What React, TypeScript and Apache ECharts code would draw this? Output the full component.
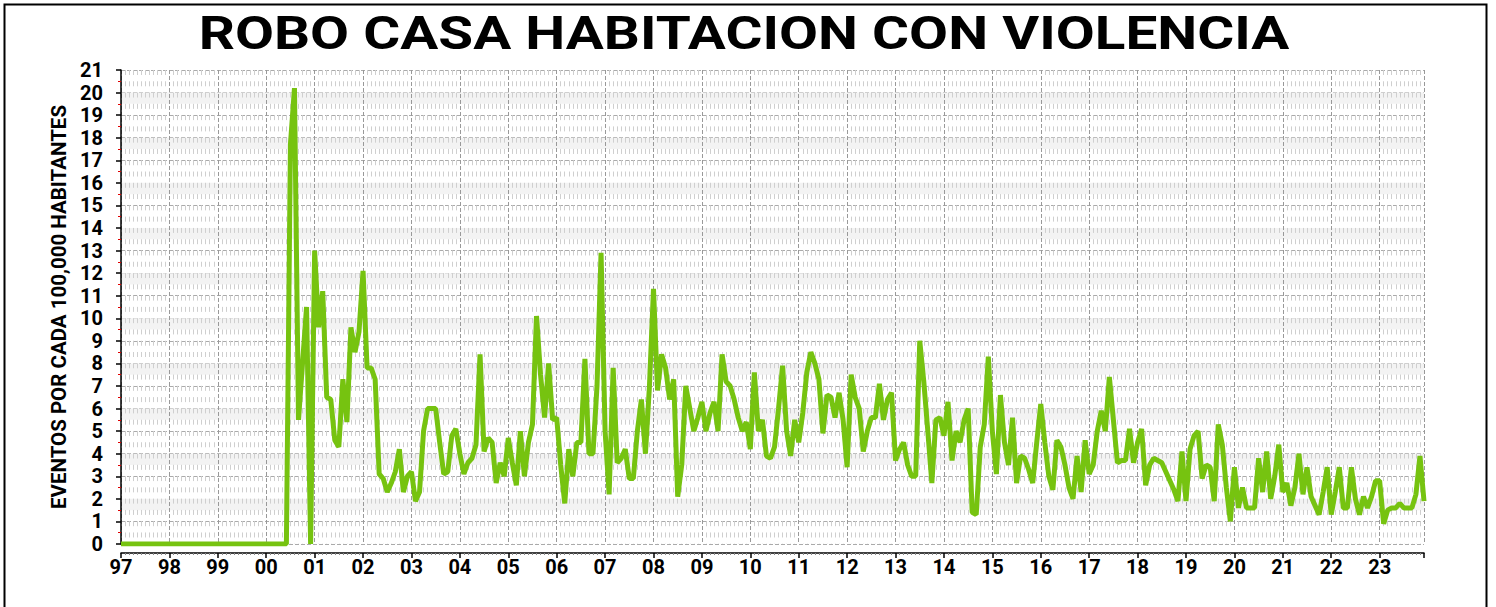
import React, { useEffect, useRef } from 'react';
import * as echarts from 'echarts';

const chartTitle = 'ROBO CASA HABITACION CON VIOLENCIA';
const yAxisTitle = 'EVENTOS POR CADA 100,000 HABITANTES';
const firstYear = 1997;
const yMax = 21;

// Monthly rate per 100,000 inhabitants, January to December of each year
const v1997 = [0, 0, 0, 0, 0, 0, 0, 0, 0, 0, 0, 0];
const v1998 = [0, 0, 0, 0, 0, 0, 0, 0, 0, 0, 0, 0];
const v1999 = [0, 0, 0, 0, 0, 0, 0, 0, 0, 0, 0, 0];
const v2000 = [0, 0, 0, 0, 0, 0, 17.7, 20.2, 5.5, 8.0, 10.5, 0];
const v2001 = [13.0, 9.6, 11.2, 6.5, 6.4, 4.6, 4.3, 7.3, 5.4, 9.6, 8.5, 9.4];
const v2002 = [12.1, 7.8, 7.8, 7.3, 3.1, 2.9, 2.3, 2.7, 3.2, 4.2, 2.3, 3.0];
const v2003 = [3.2, 1.9, 2.3, 5.0, 6.0, 6.0, 6.0, 4.5, 3.1, 3.2, 4.8, 5.1];
const v2004 = [4.0, 3.1, 3.6, 3.8, 4.4, 8.4, 4.1, 4.7, 4.5, 2.7, 3.6, 3.0];
const v2005 = [4.7, 3.6, 2.6, 5.0, 3.0, 4.5, 5.3, 10.1, 7.5, 5.6, 8.0, 5.5];
const v2006 = [5.6, 3.5, 1.8, 4.2, 3.0, 4.5, 4.5, 8.2, 4.0, 4.0, 7.0, 12.9];
const v2007 = [5.0, 2.2, 7.8, 3.6, 3.8, 4.2, 2.9, 2.9, 5.0, 6.4, 4.0, 7.0];
const v2008 = [11.3, 6.8, 8.4, 7.8, 6.4, 7.3, 2.1, 3.5, 7.0, 6.0, 5.0, 5.6];
const v2009 = [6.3, 5.0, 5.8, 6.3, 5.0, 8.4, 7.2, 7.0, 6.4, 5.6, 5.0, 5.4];
const v2010 = [4.2, 7.6, 5.0, 5.5, 3.9, 3.8, 4.3, 6.0, 7.9, 5.0, 3.9, 5.5];
const v2011 = [4.5, 5.8, 7.6, 8.5, 8.0, 7.3, 4.9, 6.6, 6.5, 5.6, 6.7, 5.5];
const v2012 = [3.4, 7.5, 6.5, 6.0, 4.1, 5.0, 5.6, 5.6, 7.1, 5.5, 6.4, 6.7];
const v2013 = [3.7, 4.2, 4.5, 3.5, 3.0, 3.0, 9.0, 7.2, 5.0, 2.7, 5.5, 5.6];
const v2014 = [4.8, 6.3, 3.7, 5.0, 4.5, 5.5, 6.0, 1.4, 1.3, 4.3, 5.3, 8.3];
const v2015 = [5.0, 3.1, 6.6, 4.5, 3.5, 5.6, 2.7, 3.9, 3.8, 3.3, 2.7, 4.5];
const v2016 = [6.2, 4.5, 3.0, 2.4, 4.6, 4.3, 3.5, 2.5, 2.0, 3.9, 2.3, 4.6];
const v2017 = [3.1, 3.5, 5.0, 5.9, 5.0, 7.4, 5.5, 3.6, 3.7, 3.7, 5.1, 3.6];
const v2018 = [4.5, 5.1, 2.6, 3.5, 3.8, 3.7, 3.6, 3.2, 2.8, 2.4, 1.9, 4.1];
const v2019 = [1.9, 4.2, 4.8, 5.0, 2.9, 3.5, 3.4, 1.9, 5.3, 4.4, 2.5, 1.0];
const v2020 = [3.4, 1.6, 2.5, 1.6, 1.6, 1.6, 3.8, 2.3, 4.1, 2.0, 3.0, 4.4];
const v2021 = [2.3, 2.7, 1.7, 2.5, 4.0, 2.2, 3.4, 2.1, 1.7, 1.3, 2.3, 3.4];
const v2022 = [1.3, 2.3, 3.4, 1.6, 1.6, 3.4, 2.0, 1.3, 2.1, 1.6, 2.1, 2.8];
const v2023 = [2.8, 0.9, 1.5, 1.6, 1.6, 1.8, 1.6, 1.6, 1.6, 2.2, 3.9, 1.9];

const yearlyValues = [
  v1997, v1998, v1999, v2000, v2001, v2002, v2003, v2004, v2005,
  v2006, v2007, v2008, v2009, v2010, v2011, v2012, v2013, v2014,
  v2015, v2016, v2017, v2018, v2019, v2020, v2021, v2022, v2023,
];

const monthlyValues: number[] = yearlyValues.flat();
const seriesData = monthlyValues.map((v, i) => [i, v]);
const lastIndex = monthlyValues.length - 1;

const FONT = 'Roboto';

export default function App() {
  const ref = useRef<HTMLDivElement>(null);

  useEffect(() => {
    document.body.style.margin = '0';
    const chart = echarts.init(ref.current!, null, { renderer: 'svg' });
    const transparent = 'rgba(0,0,0,0)';
    chart.setOption({
      animation: false,
      backgroundColor: '#ffffff',
      grid: { left: 121, right: 72, top: 70, bottom: 63, containLabel: false },
      graphic: [
        {
          type: 'rect',
          shape: { x: 4.5, y: 4.5, width: 1482, height: 640 },
          style: { fill: 'none', stroke: '#000', lineWidth: 2 },
          silent: true,
        },
        {
          type: 'text',
          x: 744,
          y: 33,
          scaleX: 1.205,
          style: {
            text: chartTitle,
            font: `bold 47px ${FONT}`,
            fill: '#000',
            textAlign: 'center',
            textVerticalAlign: 'middle',
          },
        },
      ],
      xAxis: {
        type: 'value',
        min: 0,
        max: lastIndex,
        interval: 12,
        offset: 9,
        axisLine: { show: true, onZero: false, lineStyle: { color: '#000', width: 1.5 } },
        axisTick: { show: true, length: 5, lineStyle: { color: '#000', width: 1.5 } },
        minorTick: { show: true, splitNumber: 12, length: 2, lineStyle: { color: '#888' } },
        axisLabel: {
          margin: 4,
          color: '#000',
          fontFamily: FONT,
          fontWeight: 'bold',
          fontSize: 20,
          formatter: (val: number) =>
            val % 12 === 0 ? String((firstYear + val / 12) % 100).padStart(2, '0') : '',
        },
        splitLine: { show: true, lineStyle: { color: '#999', type: [4, 2], width: 1 } },
        minorSplitLine: { show: true, lineStyle: { color: '#cfcfcf', type: [5, 6.28], width: 1 } },
      },
      yAxis: [
        {
          type: 'value',
          min: 0,
          max: yMax,
          interval: 1,
          offset: 11,
          name: yAxisTitle,
          nameLocation: 'middle',
          nameRotate: 90,
          nameGap: 28,
          nameTextStyle: { color: '#000', fontFamily: FONT, fontWeight: 'bold', fontSize: 20.5 },
          axisLine: { show: true, lineStyle: { color: '#000', width: 1.5 } },
          axisTick: { show: true, length: 5, lineStyle: { color: '#000', width: 1.5 } },
          minorTick: { show: true, splitNumber: 2, length: 3, lineStyle: { color: '#e00000', width: 1 } },
          axisLabel: {
            margin: 7,
            color: '#000',
            fontFamily: FONT,
            fontWeight: 'bold',
            fontSize: 20,
          },
          splitLine: { show: true, lineStyle: { color: '#aaa', type: [4, 2], width: 1 } },
        },
        {
          type: 'value',
          min: 0,
          max: yMax,
          interval: 0.5,
          position: 'left',
          axisLine: { show: false },
          axisTick: { show: false },
          axisLabel: { show: false },
          splitLine: { show: false },
          splitArea: {
            show: true,
            areaStyle: { color: [transparent, transparent, transparent, '#f3f3f3'] },
          },
        },
      ],
      series: [
        {
          type: 'line',
          yAxisIndex: 0,
          data: seriesData,
          showSymbol: false,
          symbol: 'none',
          lineStyle: { color: '#76c310', width: 5 },
          z: 5,
        },
      ],
    });
    return () => chart.dispose();
  }, []);

  return (
    <div
      ref={ref}
      style={{ position: 'absolute', left: 0, top: 0, width: 1496, height: 607 }}
    />
  );
}
